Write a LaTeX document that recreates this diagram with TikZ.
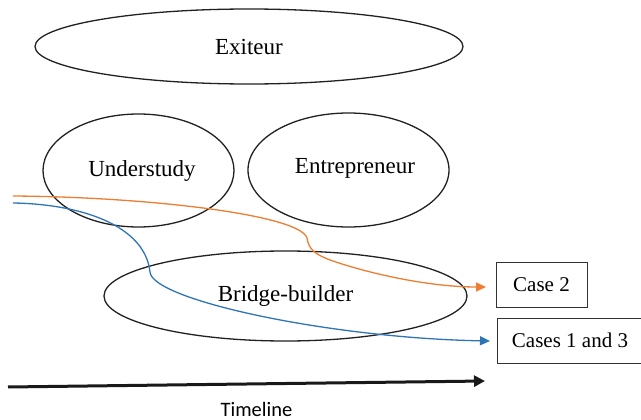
\documentclass[tikz,border=0pt]{standalone}
\usepackage{fontspec}
\setmainfont{Liberation Serif}
\newfontfamily\timelinefont{Carlito}
\usetikzlibrary{shapes.geometric,arrows.meta}

\definecolor{caseorange}{RGB}{237,125,49}
\definecolor{caseblue}{RGB}{46,117,182}

\begin{document}
\begin{tikzpicture}[x=1pt,y=-1pt,
        rolenode/.style={ellipse,draw=black!87,line width=1.3pt,inner sep=0pt,
        font=\fontsize{23}{27}\selectfont},
        casenode/.style={rectangle,draw=black!80,line width=1pt,inner sep=0pt,
        minimum height=45pt,font=\fontsize{21}{25}\selectfont},
        caseline/.style={line width=1.3pt,-{Triangle[length=10pt,width=9pt]}}]
        \useasboundingbox (0,0) rectangle (641,420);

        % roles
        \node[rolenode,minimum width=428pt,minimum height=75pt] (exiteur) at (249,46.5) {Exiteur};
        \node[rolenode,minimum width=191pt,minimum height=113pt,
            label={[font=\fontsize{23}{27}\selectfont,xshift=3.5pt,yshift=-1pt]center:Understudy}]
            (understudy) at (138.5,170.5) {};
        \node[rolenode,minimum width=201pt,minimum height=114pt,
            label={[font=\fontsize{23}{27}\selectfont,xshift=6.5pt,yshift=2pt]center:Entrepreneur}]
            (entrepreneur) at (348.5,170) {};
        \node[rolenode,minimum width=363pt,minimum height=90pt] (bridge) at (285.5,296) {Bridge-builder};

        % cases
        \node[casenode,minimum width=91pt] (casetwo) at (541.5,284.5) {Case 2};
        \node[casenode,minimum width=146pt] (casesonethree) at (570,340.5) {Cases 1 and 3};

        \coordinate (orangestart) at (13,196);
        \coordinate (orangebend) at (307,238);
        \coordinate (orangeend) at (486,287);
        \coordinate (bluestart) at (13,203);
        \coordinate (bluebend) at (150,272);
        \coordinate (blueend) at (490,341);

        % case 2
        \draw[caseline,caseorange] (orangestart) .. controls (150,197) and (300,215) .. (orangebend)
            .. controls (309,250) and (315,254) .. (330,260)
            .. controls (370,274) and (430,287) .. (orangeend);

        % cases 1 and 3
        \draw[caseline,caseblue] (bluestart) .. controls (80,204) and (145,225) .. (bluebend)
            .. controls (152,300) and (330,338) .. (blueend);

        % timeline
        \coordinate (tlstart) at (8,387);
        \coordinate (tlend) at (485,381);
        \draw[line width=3pt,black!90,-{Triangle[length=11pt,width=11pt]}] (tlstart) -- (tlend);
        \node[font=\timelinefont\fontsize{20.5}{24}\selectfont,inner sep=1pt] (timeline) at (256.5,409) {Timeline};
\end{tikzpicture}
\end{document}
